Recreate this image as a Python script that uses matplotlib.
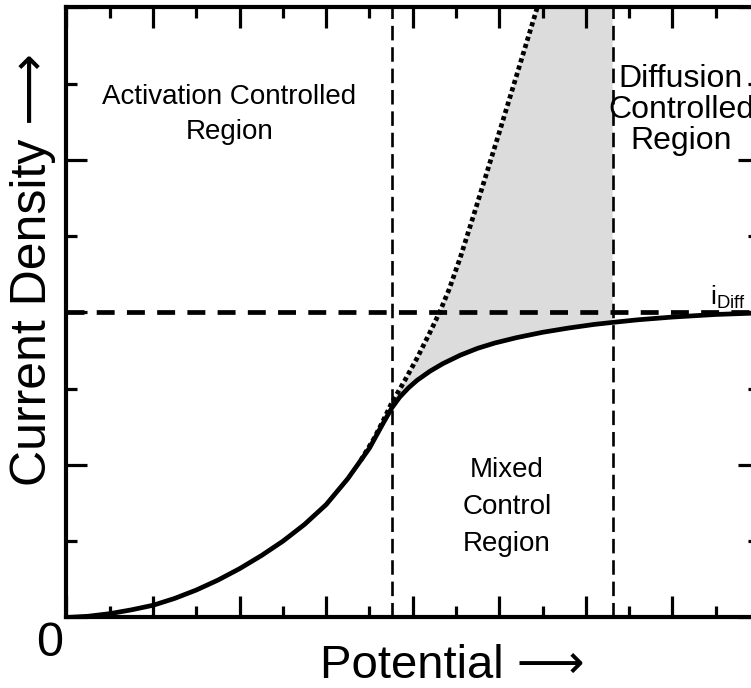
import matplotlib
matplotlib.use('Agg')
import matplotlib.pyplot as plt
from matplotlib.ticker import MultipleLocator

plt.rcParams['font.family'] = ['Liberation Sans', 'DejaVu Sans']
plt.rcParams['mathtext.fontset'] = 'custom'
plt.rcParams['mathtext.rm'] = 'Liberation Sans'

# Data ####################################################
# measured current (mixed control), potential in tick units
pot_meas = [0, 0.25, 0.5, 0.75, 1.0, 1.25, 1.5, 1.75, 2.0, 2.25, 2.5, 2.75, 3.0, 3.25,
            3.5, 3.65, 3.76, 3.85, 3.95, 4.05, 4.2, 4.35, 4.55, 4.75, 4.95, 5.2, 5.5,
            5.8, 6.1, 6.31, 6.6, 7.0, 7.5, 8.0]
cur_meas = [0, 0.008, 0.025, 0.05, 0.08, 0.125, 0.18, 0.245, 0.32, 0.405, 0.50, 0.61, 0.74, 0.91,
            1.11, 1.265, 1.375, 1.445, 1.505, 1.555, 1.615, 1.665, 1.72, 1.765, 1.80, 1.835, 1.87,
            1.898, 1.922, 1.935, 1.952, 1.97, 1.987, 1.997]

# pure activation (kinetic) current, dotted
pot_kin = [3.4, 3.55, 3.65, 3.76, 3.9, 4.05, 4.2, 4.31, 4.42, 4.55, 4.7, 4.85, 5.0, 5.15, 5.3, 5.45, 5.5]
cur_kin = [1.03, 1.17, 1.28, 1.41, 1.545, 1.70, 1.87, 2.0, 2.15, 2.36, 2.63, 2.905, 3.18, 3.46, 3.74, 4.02, 4.12]

i_diff = 2.0
region_bounds = [3.76, 6.31]

x_max = 8
y_max = 4
###########################################################

fig = plt.figure(figsize=(7.51, 6.88), dpi=100)
ax = fig.add_axes([0.0885, 0.1025, 0.922, 0.8866])

# shaded gap between kinetic and measured curve
shade_x = [x for x in pot_kin if x >= region_bounds[0]]
shade_y = [y for x, y in zip(pot_kin, cur_kin) if x >= region_bounds[0]]
low_x = [x for x in pot_meas if region_bounds[0] <= x <= region_bounds[1]]
low_y = [y for x, y in zip(pot_meas, cur_meas) if region_bounds[0] <= x <= region_bounds[1]]
poly_x = shade_x + [region_bounds[1]] + low_x[::-1]
poly_y = shade_y + [shade_y[-1]] + low_y[::-1]
ax.fill(poly_x, poly_y, color='#dcdcdc', lw=0, zorder=1)

# guide lines
ax.axhline(i_diff, color='black', lw=3.4, ls=(0, (3.8, 2.6)), dash_capstyle='butt', zorder=2)
for xb in region_bounds:
    ax.axvline(xb, color='black', lw=1.9, ls=(0, (5.5, 2.6)), dash_capstyle='butt', zorder=2)

# curves
ax.plot(pot_meas, cur_meas, color='black', lw=3.4, solid_capstyle='round',
        solid_joinstyle='round', zorder=4)
ax.plot(pot_kin, cur_kin, color='black', lw=3.4, ls=(0, (0.9, 0.7)), dash_capstyle='butt', zorder=3)

ax.set_xlim(0, x_max)
ax.set_ylim(0, y_max)

# axes look ###############################################
for sp in ax.spines.values():
    sp.set_linewidth(3.0)
ax.xaxis.set_major_locator(MultipleLocator(1))
ax.xaxis.set_minor_locator(MultipleLocator(0.5))
ax.yaxis.set_major_locator(MultipleLocator(1))
ax.yaxis.set_minor_locator(MultipleLocator(0.5))
ax.tick_params(which='both', direction='in', top=True, right=True,
               labelbottom=False, labelleft=False, width=2.3)
ax.tick_params(which='major', length=15)
ax.tick_params(which='minor', length=8)

# texts ###################################################
ax.text(1.88, 3.50, 'Activation Controlled\nRegion', ha='center', va='top',
        fontsize=20, linespacing=1.45)
ax.text(5.09, 1.05, 'Mixed\nControl\nRegion', ha='center', va='top',
        fontsize=20, linespacing=1.55)
ax.text(7.1, 3.63, 'Diffusion\nControlled\nRegion', ha='center', va='top',
        fontsize=23, linespacing=1.05)
ax.text(7.44, 2.05, r'i$_{\mathrm{Diff}}$', ha='left', va='baseline', fontsize=19)
ax.text(-0.19, -0.25, '0', ha='center', va='baseline', fontsize=35, clip_on=False)

fig.text(320 / 751, 1 - 678 / 688, 'Potential \u27f6', ha='left', va='baseline', fontsize=34)
fig.text(33 / 751, 1 - 270 / 688, 'Current Density \u27f6', rotation=90,
         ha='center', va='center', fontsize=36)

fig.savefig('out.png', dpi=100)
